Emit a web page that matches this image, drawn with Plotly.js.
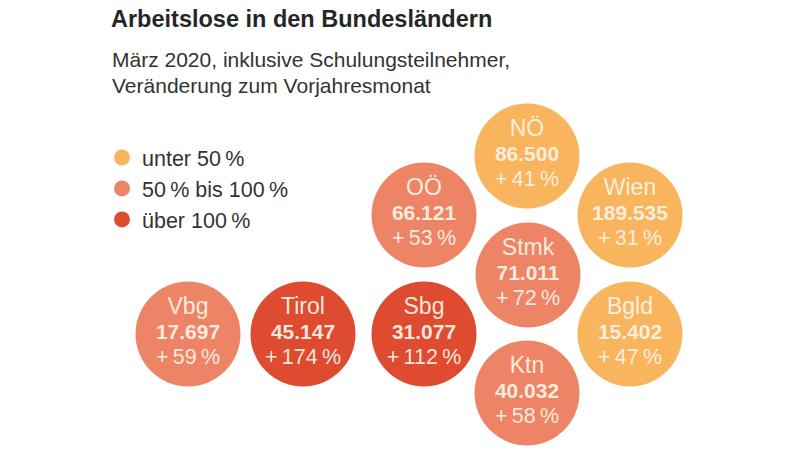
<!DOCTYPE html>
<html>
<head>
<meta charset="utf-8">
<script src="https://cdn.plot.ly/plotly-3.0.1.min.js"></script>
<style>html,body{margin:0;padding:0;background:#fff}#chart{width:800px;height:452px}</style>
</head>
<body>
<div id="chart"></div>
<script>
// Data
const regions = ["NÖ", "OÖ", "Wien", "Stmk", "Vbg", "Tirol", "Sbg", "Bgld", "Ktn"];
const arbeitslose = [86500, 66121, 189535, 71011, 17697, 45147, 31077, 15402, 40032];
const veraenderung = [41, 53, 31, 72, 59, 174, 112, 47, 58];
const categories = ["unter 50\u2009%", "50\u2009% bis 100\u2009%", "über 100\u2009%"];

// Layout of the tile map (pixel positions of each region's bubble)
const tilePos = {
  "NÖ":   [527, 156],
  "OÖ":   [424, 215],
  "Wien": [630, 215],
  "Stmk": [528, 275],
  "Vbg":  [188, 334],
  "Tirol":[303, 334],
  "Sbg":  [424, 334],
  "Bgld": [630, 334],
  "Ktn":  [527, 393]
};
const catColors = ["#F8B55E", "#EE8466", "#DE4B30"];

function fmt(n) {
  return String(n).replace(/\B(?=(\d{3})+(?!\d))/g, ".");
}
function catOf(p) { return p < 50 ? 0 : (p <= 100 ? 1 : 2); }

const traces = categories.map((cat, ci) => {
  const idx = regions.map((r, i) => i).filter(i => catOf(veraenderung[i]) === ci);
  return {
    type: "scatter",
    mode: "markers+text",
    name: cat,
    legendgroup: "g" + ci,
    x: idx.map(i => tilePos[regions[i]][0]),
    y: idx.map(i => tilePos[regions[i]][1]),
    text: idx.map(i =>
      '<span style="font-size:23px">' + regions[i] + '</span><br>' +
      '<span style="font-size:21px"><b>' + fmt(arbeitslose[i]) + '</b></span><br>' +
      '<span style="font-size:21.5px">+\u2009' + veraenderung[i] + '\u2009%</span>'),
    textposition: "middle center",
    textfont: {family: "Liberation Sans, Arial, sans-serif", size: 19.5, color: "rgba(255,242,230,0.95)"},
    marker: {size: 105, color: catColors[ci], line: {width: 0}, opacity: 1},
    hoverinfo: "skip",
    cliponaxis: false
  };
});

const layout = {
  width: 800, height: 452,
  margin: {l: 0, r: 0, t: 0, b: 0},
  paper_bgcolor: "#fff", plot_bgcolor: "#fff",
  font: {family: "Liberation Sans, Arial, sans-serif", color: "#333"},
  xaxis: {range: [0, 800], visible: false, fixedrange: true},
  yaxis: {range: [452, 0], visible: false, fixedrange: true},
  title: {
    text: "<b>Arbeitslose in den Bundesländern</b>",
    x: 111/800, xanchor: "left", xref: "paper",
    y: 1 - 19/452, yanchor: "middle", yref: "container",
    font: {size: 23.5, color: "#262626", family: "Liberation Sans, Arial, sans-serif"}
  },
  annotations: [
    {text: "März 2020, inklusive Schulungsteilnehmer,", xref: "paper", yref: "paper",
     x: 110/800, y: 1 - 60/452, xanchor: "left", yanchor: "middle", showarrow: false,
     font: {size: 21, color: "#333"}},
    {text: "Veränderung zum Vorjahresmonat", xref: "paper", yref: "paper",
     x: 110/800, y: 1 - 85/452, xanchor: "left", yanchor: "middle", showarrow: false,
     font: {size: 21, color: "#333"}}
  ],
  showlegend: true,
  legend: {
    x: 102/800, y: 1 - 137/452, xanchor: "left", yanchor: "top",
    font: {size: 21.5, color: "#333"},
    itemsizing: "trace", traceorder: "grouped", tracegroupgap: 0,
    bgcolor: "rgba(0,0,0,0)", itemclick: false, itemdoubleclick: false
  }
};

Plotly.newPlot("chart", traces, layout, {staticPlot: true, displayModeBar: false});
</script>
</body>
</html>
